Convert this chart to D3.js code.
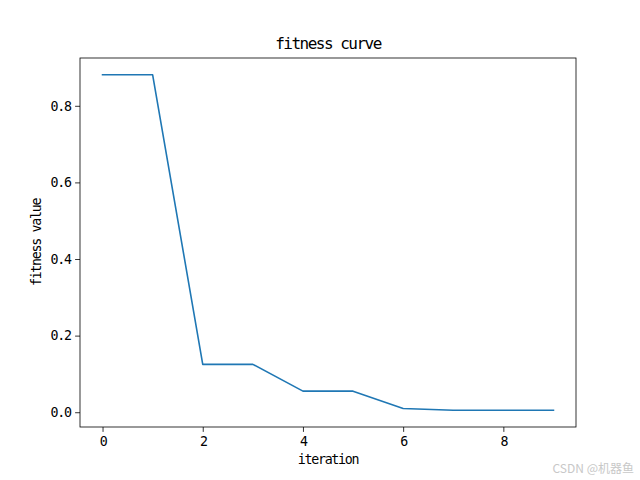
<!DOCTYPE html>
<html><head><meta charset="utf-8">
<script src="https://cdn.jsdelivr.net/npm/d3@7"></script>
<style>body{margin:0;background:#fff}svg{display:block}text{font-family:"DejaVu Sans Mono","Noto Sans CJK SC",monospace}</style>
</head><body>
<script>
const iterations = [0,1,2,3,4,5,6,7,8,9];
const fitness = [0.881,0.881,0.125,0.125,0.055,0.055,0.0097,0.0052,0.0052,0.0052];
const xTicks = [0,2,4,6,8];
const yTicks = [0.0,0.2,0.4,0.6,0.8];
const title = "fitness curve";
const xLabel = "iteration";
const yLabel = "fitness value";
const watermark = "CSDN @机器鱼";

const W=640,H=480, L=80,R=576,T=58,B=427;
const svg=d3.select("body").append("svg").attr("width",W).attr("height",H);
const xmin=d3.min(iterations),xmax=d3.max(iterations),xm=(xmax-xmin)*0.05;
const ymin=d3.min(fitness),ymax=d3.max(fitness),ym=(ymax-ymin)*0.05;
const x=d3.scaleLinear().domain([xmin-xm,xmax+xm]).range([L,R]);
const y=d3.scaleLinear().domain([ymin-ym,ymax+ym]).range([B,T]);

const fs=13.3, ls="-1.3px";
const gx=svg.append("g").attr("transform",`translate(0,${B})`)
  .call(d3.axisBottom(x).tickValues(xTicks).tickFormat(d3.format("d")).tickSizeOuter(0).tickSize(4.9).tickPadding(4.5));
const gy=svg.append("g").attr("transform",`translate(${L},0)`)
  .call(d3.axisLeft(y).tickValues(yTicks).tickFormat(d3.format(".1f")).tickSizeOuter(0).tickSize(4.9).tickPadding(4.5));
[gx,gy].forEach(g=>{g.select(".domain").remove();g.selectAll("line").attr("stroke","#000").attr("stroke-width",0.8);
  g.selectAll("text").attr("fill","#000").style("font-size",fs+"px").style("letter-spacing",ls);});

svg.append("path").datum(iterations.map((d,i)=>[d,fitness[i]]))
  .attr("fill","none").attr("stroke","#1f77b4").attr("stroke-width",1.6).attr("stroke-linejoin","round").attr("stroke-linecap","square")
  .attr("d",d3.line().x(d=>x(d[0])).y(d=>y(d[1])));

svg.append("rect").attr("x",L).attr("y",T).attr("width",R-L).attr("height",B-T)
  .attr("fill","none").attr("stroke","#000").attr("stroke-width",0.8);

svg.append("text").attr("x",(L+R)/2).attr("y",T-9).attr("text-anchor","middle").style("font-size","16px").style("letter-spacing","-1.5px").text(title);
svg.append("text").attr("x",(L+R)/2).attr("y",464).attr("text-anchor","middle").style("font-size",fs+"px").style("letter-spacing",ls).text(xLabel);
svg.append("text").attr("transform",`translate(41,${(T+B)/2}) rotate(-90)`).attr("text-anchor","middle").style("font-size",fs+"px").style("letter-spacing",ls).text(yLabel);
svg.append("text").attr("x",634).attr("y",473).attr("text-anchor","end").attr("fill","#c8c8c8").style("font-size","12px").style("font-family","Noto Sans CJK SC").text(watermark);
</script>
</body></html>
